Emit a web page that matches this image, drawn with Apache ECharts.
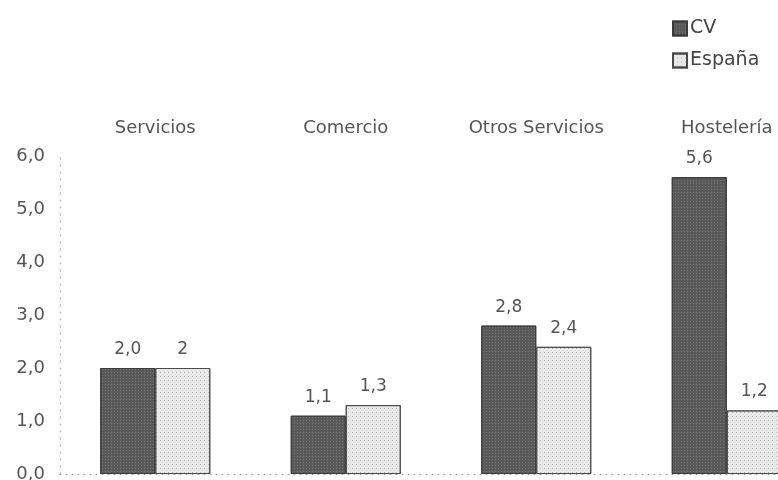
<!DOCTYPE html>
<html>
<head>
<meta charset="utf-8">
<script src="https://cdn.jsdelivr.net/npm/echarts@6/dist/echarts.min.js"></script>
<style>
  html, body { margin: 0; padding: 0; background: #fff; }
  #chart { width: 778px; height: 480px; }
</style>
</head>
<body>
<div id="chart"></div>
<script>
// Sectors and series values
const categories = ['Servicios', 'Comercio', 'Otros Servicios', 'Hostelería'];
const cvValues = [2.0, 1.1, 2.8, 5.6];
const espanaValues = [2.0, 1.3, 2.4, 1.2];
const yTicks = [0, 1, 2, 3, 4, 5, 6];

const comma = s => String(s).replace('.', ',');

const chart = echarts.init(document.getElementById('chart'));

const textColor = '#555';
const fontFamily = 'DejaVu Sans, Verdana, sans-serif';

chart.setOption({
  animation: false,
  backgroundColor: '#fff',
  textStyle: { fontFamily: fontFamily },
  legend: {
    orient: 'vertical',
    left: 667,
    top: 14,
    icon: 'rect',
    itemWidth: 14,
    itemHeight: 14,
    itemGap: 13,
    textStyle: { color: '#444', fontSize: 19, fontFamily: fontFamily, padding: [0, 0, 0, -2] },
    data: ['CV', 'España']
  },
  // the last category runs past the right edge of the page
  grid: { left: 60, top: 156, width: 762, height: 318, outerBoundsMode: 'none', containLabel: false },
  xAxis: [
    {
      type: 'category',
      data: categories,
      position: 'bottom',
      axisLine: { show: true, lineStyle: { color: '#999', type: [1, 5], width: 1 } },
      axisTick: { show: false },
      axisLabel: { show: false }
    },
    {
      type: 'category',
      data: categories,
      position: 'top',
      axisLine: { show: false },
      axisTick: { show: false },
      axisLabel: { show: true, color: textColor, fontSize: 18, margin: 19, fontFamily: fontFamily }
    }
  ],
  yAxis: {
    type: 'value',
    min: yTicks[0],
    max: yTicks[yTicks.length - 1],
    interval: 1,
    axisLine: { show: true, lineStyle: { color: '#aaa', type: [1, 6], width: 1 } },
    axisTick: { show: false },
    splitLine: { show: false },
    axisLabel: {
      color: textColor,
      fontSize: 18,
      margin: 15,
      fontFamily: fontFamily,
      formatter: v => comma(v.toFixed(1))
    }
  },
  series: [
    {
      name: 'CV',
      type: 'bar',
      xAxisIndex: 0,
      data: cvValues,
      barWidth: 55,
      barGap: '0%',
      itemStyle: {
        color: '#5a5a5a',
        borderColor: '#3c3c3c',
        borderWidth: 1,
        decal: {
          symbol: 'rect',
          symbolSize: 1,
          dashArrayX: [1, 2],
          dashArrayY: [1, 2],
          color: 'rgba(160,160,160,0.35)'
        }
      },
      label: {
        show: true,
        position: 'top',
        distance: 10,
        color: textColor,
        fontSize: 17,
        fontFamily: fontFamily,
        formatter: p => comma(p.value.toFixed(1))
      }
    },
    {
      name: 'España',
      type: 'bar',
      xAxisIndex: 0,
      data: espanaValues,
      barWidth: 55,
      itemStyle: {
        color: '#e8e8e8',
        borderColor: '#4a4a4a',
        borderWidth: 1,
        decal: {
          symbol: 'rect',
          symbolSize: 1,
          dashArrayX: [1, 3],
          dashArrayY: [1, 3],
          color: 'rgba(130,130,130,0.45)'
        }
      },
      label: {
        show: true,
        position: 'top',
        distance: 10,
        color: textColor,
        fontSize: 17,
        fontFamily: fontFamily,
        formatter: p => comma(p.value)
      }
    }
  ]
});
</script>
</body>
</html>
